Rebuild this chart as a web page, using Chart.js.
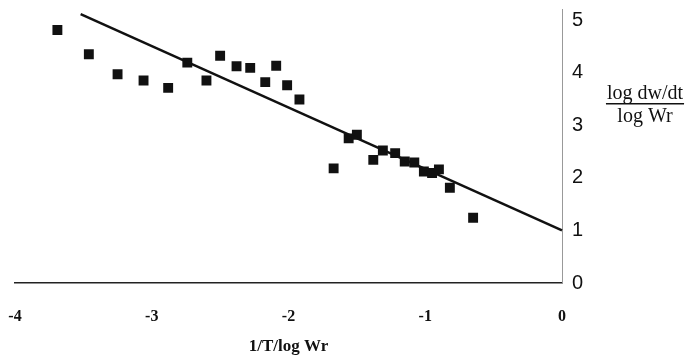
<!DOCTYPE html>
<html>
<head>
<meta charset="utf-8">
<script src="https://cdn.jsdelivr.net/npm/chart.js@4/dist/chart.umd.min.js"></script>
<style>
  html, body { margin: 0; padding: 0; background: #fff; }
  #wrap { width: 692px; height: 360px; position: relative; }
</style>
</head>
<body>
<div id="wrap"><canvas id="c" width="692" height="360"></canvas></div>
<script>
// Observed points: x = 1/T/log Wr, y = log dw/dt / log Wr
const xValues = [-3.69, -3.46, -3.25, -3.06, -2.88, -2.74, -2.60, -2.50, -2.38, -2.28, -2.17, -2.09, -2.01, -1.92,
                 -1.67, -1.56, -1.50, -1.38, -1.31, -1.22, -1.15, -1.08, -1.01, -0.95, -0.90, -0.82, -0.65];
const yValues = [4.81, 4.35, 3.97, 3.85, 3.71, 4.19, 3.85, 4.32, 4.12, 4.09, 3.82, 4.13, 3.76, 3.49,
                 2.18, 2.75, 2.82, 2.34, 2.52, 2.47, 2.31, 2.29, 2.12, 2.09, 2.16, 1.81, 1.24];
// Fitted regression line end points
const fitX = [-3.52, 0];
const fitY = [5.11, 1.0];
// Axis ticks
const xTicks = [-4, -3, -2, -1, 0];
const yTicks = [0, 1, 2, 3, 4, 5];
const xTitle = '1/T/log Wr';
const yTitleTop = 'log dw/dt';
const yTitleBottom = 'log Wr';

const points = xValues.map((x, i) => ({ x: x, y: yValues[i] }));
const fitLine = fitX.map((x, i) => ({ x: x, y: fitY[i] }));

const fractionTitle = {
  id: 'fractionTitle',
  afterDraw(chart) {
    const ctx = chart.ctx;
    const yScale = chart.scales.y;
    const cx = 645;
    const yMid = yScale.getPixelForValue(3.37) - 2;
    ctx.save();
    ctx.fillStyle = '#111';
    ctx.strokeStyle = '#111';
    ctx.font = '20px "Liberation Serif", "Times New Roman", serif';
    ctx.textAlign = 'center';
    ctx.textBaseline = 'alphabetic';
    ctx.fillText(yTitleTop, cx, yMid - 5);
    ctx.fillText(yTitleBottom, cx, yMid + 18);
    const w = ctx.measureText(yTitleTop).width;
    ctx.lineWidth = 1.5;
    ctx.beginPath();
    ctx.moveTo(cx - w / 2 - 1, yMid);
    ctx.lineTo(cx + w / 2 + 1, yMid);
    ctx.stroke();
    ctx.restore();
  }
};

new Chart(document.getElementById('c'), {
  type: 'scatter',
  data: {
    datasets: [
      {
        type: 'line',
        data: fitLine,
        borderColor: '#111',
        borderWidth: 2.5,
        pointRadius: 0,
        showLine: true,
        fill: false,
        clip: false
      },
      {
        data: points,
        pointStyle: 'rect',
        pointRadius: 7,
        pointHoverRadius: 7,
        backgroundColor: '#111',
        borderColor: '#111',
        borderWidth: 0,
        showLine: false
      }
    ]
  },
  options: {
    responsive: false,
    animation: false,
    events: [],
    layout: { padding: { left: 15, top: 9.5, right: 0, bottom: 0 } },
    plugins: { legend: { display: false }, tooltip: { enabled: false } },
    scales: {
      x: {
        type: 'linear',
        min: xTicks[0],
        max: xTicks[xTicks.length - 1],
        afterBuildTicks: (s) => { s.ticks = xTicks.map(v => ({ value: v })); },
        afterFit: (s) => { s.height = 77; s.paddingLeft = 0; s.paddingRight = 0; },
        grid: { display: false, drawTicks: false },
        border: { display: true, color: '#222', width: 1.5 },
        ticks: {
          padding: 24,
          color: '#111',
          font: { family: '"Liberation Serif", "Times New Roman", serif', size: 16, weight: 'bold' }
        },
        title: {
          display: true,
          text: xTitle,
          color: '#111',
          padding: { top: 0, bottom: 3 },
          font: { family: '"Liberation Serif", "Times New Roman", serif', size: 17, weight: 'bold' }
        }
      },
      y: {
        type: 'linear',
        position: 'right',
        min: 0,
        max: 5.2,
        afterBuildTicks: (s) => { s.ticks = yTicks.map(v => ({ value: v })); },
        afterFit: (s) => { s.width = 130; s.paddingTop = 0; s.paddingBottom = 0; },
        grid: { display: false, drawTicks: false },
        border: { display: true, color: '#999', width: 1, dash: [2, 3] },
        ticks: {
          padding: 10,
          color: '#111',
          font: { family: '"Liberation Sans", Arial, sans-serif', size: 20 }
        }
      }
    }
  },
  plugins: [fractionTitle]
});
</script>
</body>
</html>
